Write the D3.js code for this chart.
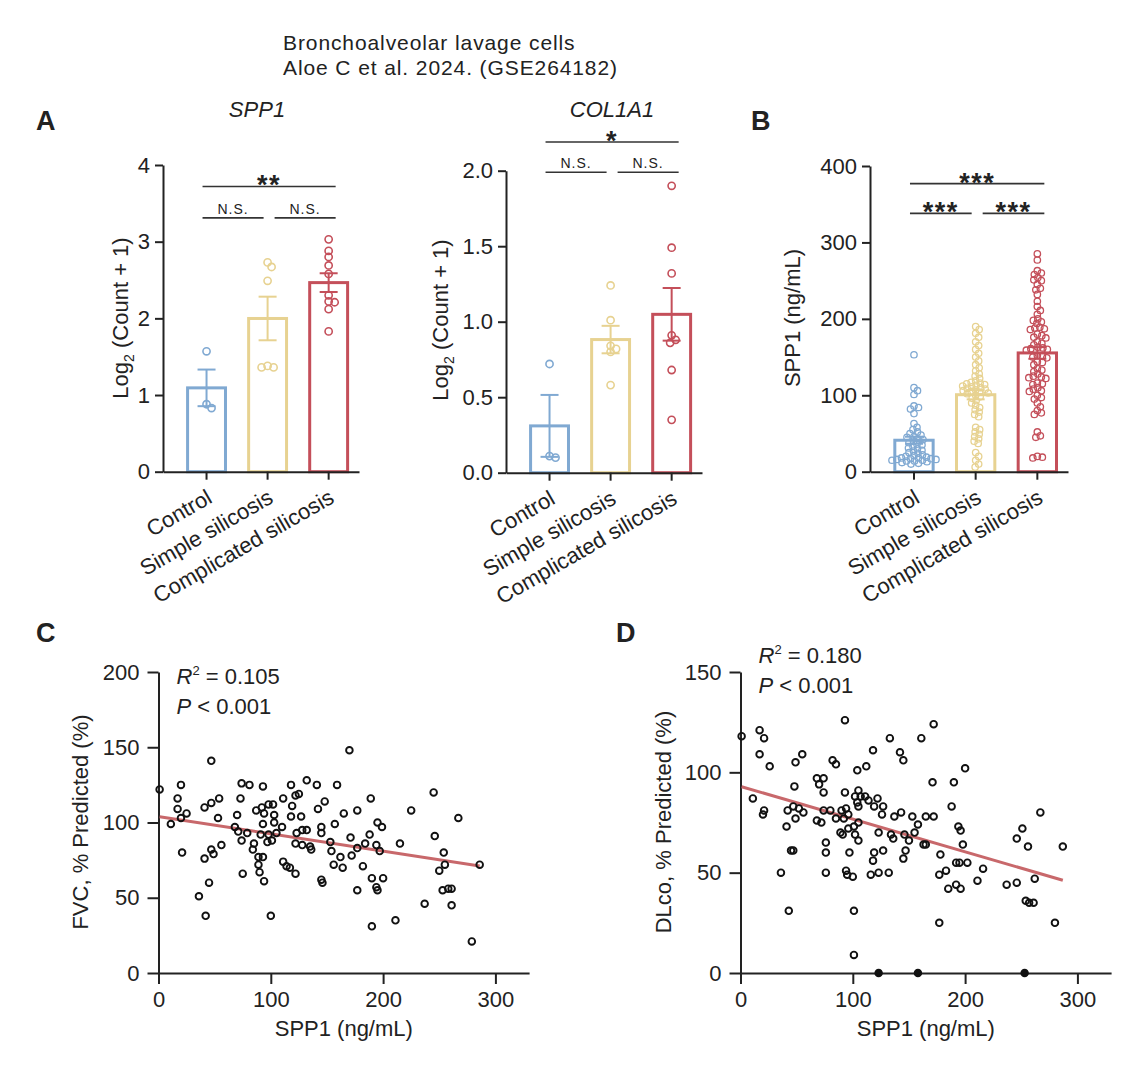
<!DOCTYPE html>
<html>
<head>
<meta charset="utf-8">
<style>
  body { margin: 0; background: #fff; }
  svg text { font-family: "Liberation Sans", Arial, Helvetica, sans-serif; fill: #222; }
</style>
</head>
<body>
<svg width="1136" height="1066"></svg>
<script src="https://d3js.org/d3.v7.min.js"></script>
<script>
const groups = ['Control', 'Simple silicosis', 'Complicated silicosis'];
const groupColors = ['#80a9d2', '#e7d291', '#c44f5a'];

// Panel A: log2(count + 1) per patient
const spp1Control = [1.57, 0.83, 0.88];
const spp1Simple = [2.67, 2.73, 2.49, 1.36, 1.38, 1.36];
const spp1Complicated = [3.03, 2.88, 2.80, 2.69, 2.58, 2.30, 2.21, 2.22, 2.12, 1.83];
const col1a1Control = [0.72, 0.10, 0.11];
const col1a1Simple = [1.24, 1.01, 0.84, 0.82, 0.80, 0.58];
const col1a1Complicated = [1.90, 1.49, 1.32, 0.91, 0.88, 0.86, 0.68, 0.35];

// Panel B: serum SPP1 (ng/mL)
const serumControl = [153, 110, 106, 101, 86, 84, 82, 76, 63, 58, 55, 52, 50, 48, 46, 45, 43, 42, 40, 38,
  36, 35, 33, 31, 30, 28, 27, 25, 24, 22, 21, 20, 19, 18, 18, 17, 17, 16, 16, 15, 15, 14, 14, 13, 12, 11, 10];
const serumSimple = [190, 186, 181, 176, 170, 165, 160, 155, 150, 145, 140, 136, 132, 128, 125, 122, 119, 117, 116, 115,
  114, 113, 112, 111, 110, 109, 108, 107, 106, 105, 104, 103, 102, 100, 98, 96, 93, 90, 87, 84,
  81, 78, 75, 72, 58, 55, 52, 49, 46, 43, 40, 37, 25, 20, 15, 10, 6];
const serumComplicated = [285, 277, 263, 260, 258, 254, 251, 250, 245, 240, 238, 232, 223, 216, 211, 206, 200, 198, 196, 194,
  189, 188, 187, 186, 180, 178, 176, 175, 170, 168, 166, 163, 162, 161, 160, 159, 152, 151, 150, 149,
  144, 143, 140, 135, 133, 131, 128, 125, 124, 123, 122, 116, 115, 114, 110, 108, 106, 105, 100, 97,
  95, 90, 85, 80, 77, 75, 52, 47, 45, 20, 19, 18];

// Panel C: SPP1 vs FVC
const cSpp1 = [1, 47, 20, 17, 17, 25, 20, 11, 21, 36, 42, 41, 47, 54, 53, 41, 47, 49, 56, 45,
  74, 81, 93, 73, 70, 68, 71, 74, 79, 85, 84, 75, 89, 93, 89, 90, 94, 100, 87, 92,
  94, 98, 102, 103, 103, 93, 91, 98, 97, 101, 105, 110, 111, 119, 122, 125, 118, 132, 141, 118,
  127, 123, 128, 132, 122, 128, 135, 136, 111, 114, 117, 122, 142, 148, 145, 145, 153, 154, 156, 145,
  146, 157, 159, 170, 189, 165, 177, 171, 188, 195, 199, 177, 184, 194, 197, 162, 172, 164, 182, 190,
  200, 194, 195, 177, 215, 225, 245, 246, 267, 254, 255, 250, 286, 253, 258, 261, 237, 261, 211, 190, 279];
const cFvc = [122, 141, 125, 116, 109, 106, 103, 99, 80, 51, 38, 110, 113, 116, 103, 76, 82, 79, 85, 60,
  126, 125, 124, 116, 105, 97, 94, 88, 93, 86, 82, 66, 77, 77, 72, 67, 61, 38, 108, 110,
  106, 112, 112, 105, 100, 99, 92, 92, 87, 88, 93, 97, 116, 111, 118, 119, 125, 128, 125, 104,
  104, 93, 95, 95, 86, 85, 84, 82, 74, 71, 70, 66, 109, 114, 97, 93, 87, 81, 72, 62,
  60, 99, 125, 148, 116, 106, 108, 90, 92, 100, 97, 83, 86, 85, 81, 77, 78, 70, 71, 63,
  63, 57, 55, 55, 86, 108, 120, 91, 103, 80, 72, 68, 72, 55, 56, 56, 46, 45, 35, 31, 21];

// Panel D: SPP1 vs DLco
const dSpp1 = [1, 17, 21, 17, 26, 11, 21, 20, 36, 43, 41, 42, 49, 47, 52, 56, 48, 49, 55, 45,
  47, 68, 74, 70, 74, 82, 85, 74, 80, 68, 72, 85, 76, 76, 76, 93, 93, 90, 94, 96,
  92, 89, 91, 96, 101, 105, 104, 112, 105, 102, 107, 104, 105, 111, 114, 122, 119, 127, 126, 102,
  105, 97, 94, 95, 100, 101, 101, 118, 133, 142, 145, 119, 118, 127, 116, 123, 132, 123, 134, 136,
  137, 143, 153, 146, 150, 147, 145, 155, 123, 161, 172, 200, 171, 190, 188, 165, 172, 158, 194,
  196, 163, 165, 198, 178, 192, 195, 202, 183, 177, 185, 192, 196, 216, 211, 177, 237, 246, 246, 251,
  256, 267, 262, 254, 257, 261, 287, 280, 158, 253];
const dDlco = [118, 121, 117, 109, 103, 87, 81, 79, 50, 31, 73, 81, 77, 83, 82, 80, 93, 105, 109, 61,
  61, 97, 97, 94, 90, 106, 104, 81, 81, 76, 75, 77, 65, 60, 50, 90, 126, 81, 82, 79,
  77, 70, 69, 72, 73, 75, 101, 103, 91, 88, 88, 85, 83, 88, 86, 87, 83, 83, 79, 69,
  66, 60, 51, 49, 48, 31, 9, 111, 117, 110, 106, 60, 56, 61, 49, 50, 50, 70, 69, 67,
  78, 80, 78, 69, 66, 61, 57, 70, 0, 117, 124, 102, 95, 95, 83, 78, 78, 74, 73,
  71, 64, 64, 64, 59, 55, 55, 55, 51, 49, 42, 44, 42, 52, 46, 25, 44, 45, 67, 72,
  63, 80, 47, 36, 35, 35, 63, 25, 0, 0];

// regression lines and statistics
const fitC = { intercept: 104, slope: -0.115, r2: 0.105, p: '< 0.001' };
const fitD = { intercept: 93, slope: -0.163, r2: 0.180, p: '< 0.001' };

const svg = d3.select('svg');
const font = '"Liberation Sans", Arial, Helvetica, sans-serif';

function styleAxis(g) {
  g.attr('font-size', 22).attr('font-family', font);
  g.selectAll('path.domain').attr('stroke', '#222').attr('stroke-width', 2);
  g.selectAll('.tick line').attr('stroke', '#222').attr('stroke-width', 2);
  g.selectAll('.tick text').attr('fill', '#222');
}

// put points beside each other when they would overlap
function swarm(values, y, cx, d) {
  const pts = values.map(v => ({ v: v, y: y(v), x: cx }));
  const placed = [];
  pts.slice().sort((a, b) => a.y - b.y).forEach(p => {
    for (let k = 0; k < 400; k++) {
      const xx = cx + (k % 2 ? 1 : -1) * Math.ceil(k / 2) * 0.5;
      if (placed.every(q => (q.x - xx) ** 2 + (q.y - p.y) ** 2 >= d * d)) { p.x = xx; break; }
    }
    placed.push(p);
  });
  return pts;
}

function yLabel(g, x, yMid, parts) {
  const t = g.append('text')
    .attr('transform', `translate(${x},${yMid}) rotate(-90)`)
    .attr('text-anchor', 'middle')
    .attr('font-size', 22);
  parts(t);
}

function barPanel(o) {
  const g = svg.append('g');
  const x = d3.scaleBand().domain(groups).range([o.x0, o.x0 + o.w])
    .paddingInner(0.33).paddingOuter(0.27).align(0.7);
  const y = d3.scaleLinear().domain([0, o.max]).range([o.y0, o.y1]);
  const cx = i => x(groups[i]) + x.bandwidth() / 2;

  const stats = o.data.map(d => {
    const m = d3.mean(d);
    return { mean: m, sem: d3.deviation(d) / Math.sqrt(d.length) };
  });

  g.selectAll('rect.bar').data(stats).join('rect')
    .attr('class', 'bar')
    .attr('x', (d, i) => x(groups[i]) + 1.5)
    .attr('y', d => y(d.mean))
    .attr('width', x.bandwidth() - 3)
    .attr('height', d => y(0) - y(d.mean))
    .attr('fill', 'none')
    .attr('stroke', (d, i) => groupColors[i])
    .attr('stroke-width', 3);

  // error bars (mean +/- SEM)
  stats.forEach((s, i) => {
    const c = cx(i);
    const col = groupColors[i];
    g.append('line').attr('x1', c).attr('x2', c)
      .attr('y1', y(s.mean + s.sem)).attr('y2', y(s.mean - s.sem))
      .attr('stroke', col).attr('stroke-width', 2);
    [s.mean + s.sem, s.mean - s.sem].forEach(v => {
      g.append('line').attr('x1', c - o.cap).attr('x2', c + o.cap)
        .attr('y1', y(v)).attr('y2', y(v))
        .attr('stroke', col).attr('stroke-width', 2);
    });
  });

  o.data.forEach((d, i) => {
    g.append('g').selectAll('circle').data(swarm(d, y, cx(i), o.sep)).join('circle')
      .attr('cx', p => p.x).attr('cy', p => p.y).attr('r', o.r)
      .attr('fill', 'none').attr('stroke', groupColors[i]).attr('stroke-width', o.sw);
  });

  const ya = g.append('g').attr('transform', `translate(${o.x0},0)`)
    .call(d3.axisLeft(y).tickValues(o.ticks).tickFormat(o.fmt).tickSize(8).tickPadding(5).tickSizeOuter(0));
  styleAxis(ya);
  const xa = g.append('g').attr('transform', `translate(0,${o.y0})`)
    .call(d3.axisBottom(x).tickSize(8).tickSizeOuter(0));
  styleAxis(xa);
  xa.selectAll('.tick text')
    .attr('x', 0).attr('y', 0).attr('dy', null)
    .attr('text-anchor', 'end')
    .attr('transform', 'translate(7,30) rotate(-30)');

  // significance brackets
  o.comps.forEach(c => {
    const x1 = cx(c[0]) + (c[0] === 1 ? 7 : -4);
    const x2 = cx(c[1]) + (c[1] === 1 ? -4 : 7);
    const yy = y(c[2]);
    g.append('line').attr('x1', x1).attr('x2', x2).attr('y1', yy).attr('y2', yy)
      .attr('stroke', '#333').attr('stroke-width', 1.6);
    const t = g.append('text').attr('x', (x1 + x2) / 2).attr('text-anchor', 'middle').text(c[3]);
    if (c[3] === 'N.S.') {
      t.attr('y', yy - 4).attr('font-size', 14).attr('letter-spacing', 1);
    } else {
      t.attr('y', yy + 8).attr('font-size', 27).attr('font-weight', 'bold').attr('letter-spacing', 1.5);
    }
  });
  return g;
}

// title
svg.append('text').attr('x', 283).attr('y', 50).attr('font-size', 21).attr('letter-spacing', 0.9)
  .text('Bronchoalveolar lavage cells');
svg.append('text').attr('x', 283).attr('y', 75).attr('font-size', 21).attr('letter-spacing', 0.9)
  .text('Aloe C et al. 2024. (GSE264182)');

// panel letters
[['A', 36, 130], ['B', 751, 130], ['C', 36, 642], ['D', 616, 642]].forEach(l => {
  svg.append('text').attr('x', l[1]).attr('y', l[2]).attr('font-size', 27).attr('font-weight', 'bold').text(l[0]);
});

svg.append('text').attr('x', 257).attr('y', 117).attr('text-anchor', 'middle')
  .attr('font-size', 22).attr('font-style', 'italic').text('SPP1');
svg.append('text').attr('x', 612).attr('y', 117).attr('text-anchor', 'middle')
  .attr('font-size', 22).attr('font-style', 'italic').text('COL1A1');

const logLabel = t => {
  t.append('tspan').text('Log');
  t.append('tspan').attr('font-size', 14).attr('dy', 6).text('2');
  t.append('tspan').attr('dy', -6).text(' (Count + 1)');
};

const pA1 = barPanel({
  x0: 163, w: 196, y0: 471.7, y1: 165, max: 4,
  data: [spp1Control, spp1Simple, spp1Complicated],
  ticks: [0, 1, 2, 3, 4], fmt: d3.format('d'),
  r: 3.6, sw: 1.6, sep: 6, cap: 9,
  comps: [[0, 1, 3.31, 'N.S.'], [1, 2, 3.31, 'N.S.'], [0, 2, 3.72, '**']]
});
yLabel(pA1, 128, 318, logLabel);

const pA2 = barPanel({
  x0: 506, w: 196, y0: 472.7, y1: 170.7, max: 2,
  data: [col1a1Control, col1a1Simple, col1a1Complicated],
  ticks: [0, 0.5, 1, 1.5, 2], fmt: d3.format('.1f'),
  r: 3.6, sw: 1.6, sep: 6, cap: 9,
  comps: [[0, 1, 1.99, 'N.S.'], [1, 2, 1.99, 'N.S.'], [0, 2, 2.19, '*']]
});
yLabel(pA2, 448, 320, logLabel);

const pB = barPanel({
  x0: 870, w: 198, y0: 471.7, y1: 166, max: 400,
  data: [serumControl, serumSimple, serumComplicated],
  ticks: [0, 100, 200, 300, 400], fmt: d3.format('d'),
  r: 3.2, sw: 1.3, sep: 4.6, cap: 9,
  comps: [[0, 1, 338, '***'], [1, 2, 338, '***'], [0, 2, 377, '***']]
});
yLabel(pB, 800, 318, t => t.text('SPP1 (ng/mL)'));

function scatterPanel(o) {
  const g = svg.append('g');
  const x = d3.scaleLinear().domain([0, 330]).range([o.x0, o.x0 + 370.6]);
  const y = d3.scaleLinear().domain([0, o.max]).range([973, 672]);
  const pts = o.xs.map((v, i) => [v, o.ys[i]]);

  const xa = g.append('g').attr('transform', 'translate(0,973)')
    .call(d3.axisBottom(x).tickValues([0, 100, 200, 300]).tickSize(11).tickPadding(7).tickSizeOuter(0));
  styleAxis(xa);
  const ya = g.append('g').attr('transform', `translate(${o.x0},0)`)
    .call(d3.axisLeft(y).tickValues(o.ticks).tickSize(11).tickPadding(8).tickSizeOuter(0));
  styleAxis(ya);

  const ext = d3.extent(o.xs);
  g.append('line')
    .attr('x1', x(ext[0])).attr('y1', y(o.fit.intercept + o.fit.slope * ext[0]))
    .attr('x2', x(ext[1])).attr('y2', y(o.fit.intercept + o.fit.slope * ext[1]))
    .attr('stroke', '#c8686b').attr('stroke-width', 3);

  // points sitting on the x axis show up as solid dots
  g.append('g').selectAll('circle').data(pts).join('circle')
    .attr('cx', d => x(d[0])).attr('cy', d => y(d[1])).attr('r', 3.3)
    .attr('fill', d => d[1] === 0 ? '#111' : 'none').attr('stroke', '#111').attr('stroke-width', 1.9);

  g.append('text').attr('x', x(165)).attr('y', 1036).attr('text-anchor', 'middle')
    .attr('font-size', 22).text('SPP1 (ng/mL)');
  yLabel(g, o.labelX, 822, t => t.text(o.label));

  const r = g.append('text').attr('x', o.x0 + 18).attr('y', o.statY).attr('font-size', 22);
  r.append('tspan').attr('font-style', 'italic').text('R');
  r.append('tspan').attr('font-size', 13).attr('dy', -9).text('2');
  r.append('tspan').attr('dy', 9).text(' = ' + o.fit.r2.toFixed(3));
  const p = g.append('text').attr('x', o.x0 + 18).attr('y', o.statY + 30).attr('font-size', 22);
  p.append('tspan').attr('font-style', 'italic').text('P');
  p.append('tspan').text(' ' + o.fit.p);
}

scatterPanel({ x0: 158.5, max: 200, ticks: [0, 50, 100, 150, 200], xs: cSpp1, ys: cFvc, fit: fitC,
  label: 'FVC, % Predicted (%)', labelX: 88, statY: 684 });
scatterPanel({ x0: 740.5, max: 150, ticks: [0, 50, 100, 150], xs: dSpp1, ys: dDlco, fit: fitD,
  label: 'DLco, % Predicted (%)', labelX: 671, statY: 663 });
</script>
</body>
</html>
